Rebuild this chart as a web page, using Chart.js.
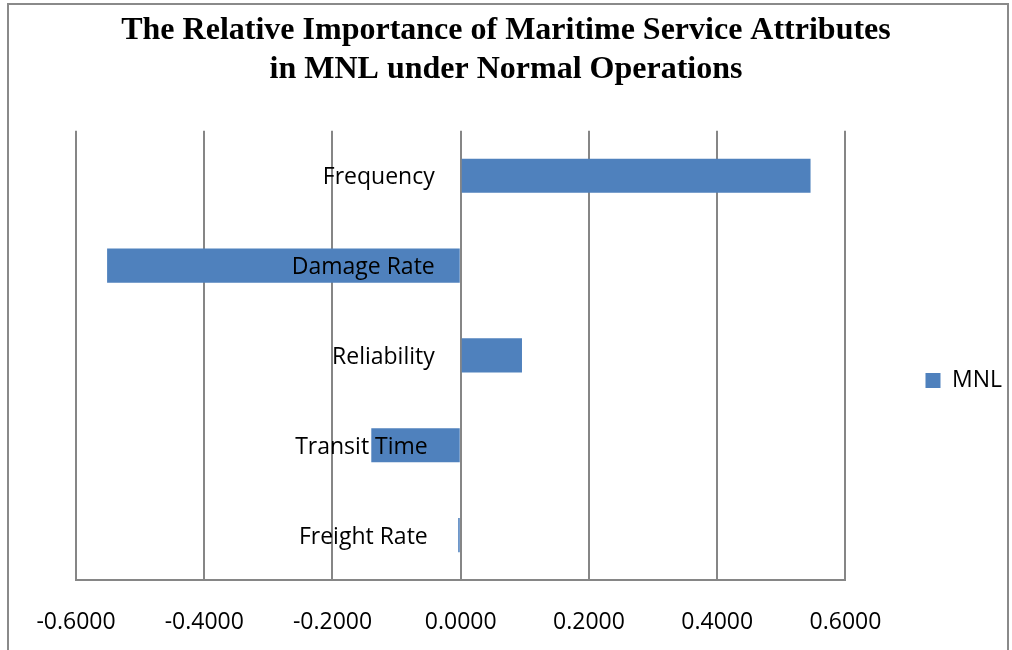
<!DOCTYPE html>
<html>
<head>
<meta charset="utf-8">
<script src="https://cdn.jsdelivr.net/npm/chart.js@4.4.1/dist/chart.umd.min.js"></script>
<style>
  html, body { margin: 0; padding: 0; background: #ffffff; }
  #wrap { width: 1012px; height: 650px; position: relative; }
</style>
</head>
<body>
<div id="wrap"><canvas id="chart" width="1012" height="650"></canvas></div>
<script>
// Attributes and their relative importance in the MNL model
const categories = ['Frequency', 'Damage Rate', 'Reliability', 'Transit Time', 'Freight Rate'];
const mnlValues = [0.5455, -0.5515, 0.0955, -0.1395, -0.0040];
const axisMin = -0.6;
const axisMax = 0.6;
const axisStep = 0.2;
const seriesName = 'MNL';
const titleLines = ['The Relative Importance of Maritime Service Attributes', 'in MNL under Normal Operations'];

const labelFont = { family: '"Open Sans", "Liberation Sans", sans-serif', size: 23 };
const gridGray = '#868686';

// Outer frame around the chart
const framePlugin = {
  id: 'frame',
  beforeDraw(chart) {
    const ctx = chart.ctx;
    ctx.save();
    ctx.fillStyle = '#ffffff';
    ctx.fillRect(0, 0, chart.width, chart.height);
    ctx.strokeStyle = '#8a8a8a';
    ctx.lineWidth = 2;
    ctx.strokeRect(8, 4, chart.width - 12, chart.height + 10);
    ctx.restore();
  }
};

// Category names sit just left of the zero line, on top of the bars
const categoryLabelPlugin = {
  id: 'categoryLabels',
  afterDatasetsDraw(chart) {
    const ctx = chart.ctx;
    const xs = chart.scales.x;
    const ys = chart.scales.y;
    const zeroX = xs.getPixelForValue(0);
    const gaps = [26, 26, 26, 33, 33];
    ctx.save();
    ctx.font = `${labelFont.size}px ${labelFont.family}`;
    ctx.fillStyle = '#000000';
    ctx.textAlign = 'right';
    ctx.textBaseline = 'middle';
    chart.data.labels.forEach((name, i) => {
      ctx.fillText(name, zeroX - gaps[i], ys.getPixelForValue(i) + 2);
    });
    ctx.restore();
  }
};

new Chart(document.getElementById('chart'), {
  type: 'bar',
  data: {
    labels: categories,
    datasets: [{
      label: seriesName,
      data: mnlValues,
      backgroundColor: '#4f81bd',
      borderWidth: 0,
      barPercentage: 0.38,
      categoryPercentage: 1.0
    }]
  },
  options: {
    indexAxis: 'y',
    responsive: false,
    animation: false,
    devicePixelRatio: 1,
    layout: { padding: { left: 0, right: 0, top: 4, bottom: 1 } },
    plugins: {
      title: {
        display: true,
        text: titleLines,
        color: '#000000',
        font: { family: '"Liberation Serif", "Times New Roman", serif', size: 32, weight: 'bold', lineHeight: 1.2 },
        padding: { top: 8, bottom: 42 }
      },
      legend: {
        display: true,
        position: 'right',
        fullSize: false,
        title: { display: true, text: '', font: { size: 12, lineHeight: 1.2 }, padding: { top: 36, bottom: 0 } },
        labels: {
          boxWidth: 15,
          boxHeight: 15,
          padding: 80,
          color: '#000000',
          font: labelFont
        }
      },
      tooltip: { enabled: false }
    },
    scales: {
      x: {
        type: 'linear',
        min: axisMin,
        max: axisMax,
        ticks: {
          stepSize: axisStep,
          color: '#000000',
          font: labelFont,
          padding: 29,
          callback: (v) => Number(v).toFixed(4)
        },
        grid: { color: gridGray, lineWidth: 2, drawTicks: false },
        border: { display: true, color: gridGray, width: 2 },
        afterFit: (scale) => { scale.height = 69; }
      },
      y: {
        display: true,
        ticks: { display: false },
        grid: { display: false, drawTicks: false },
        border: { display: false },
        afterFit: (scale) => { scale.width = 76; }
      }
    }
  },
  plugins: [framePlugin, categoryLabelPlugin]
});
</script>
</body>
</html>
